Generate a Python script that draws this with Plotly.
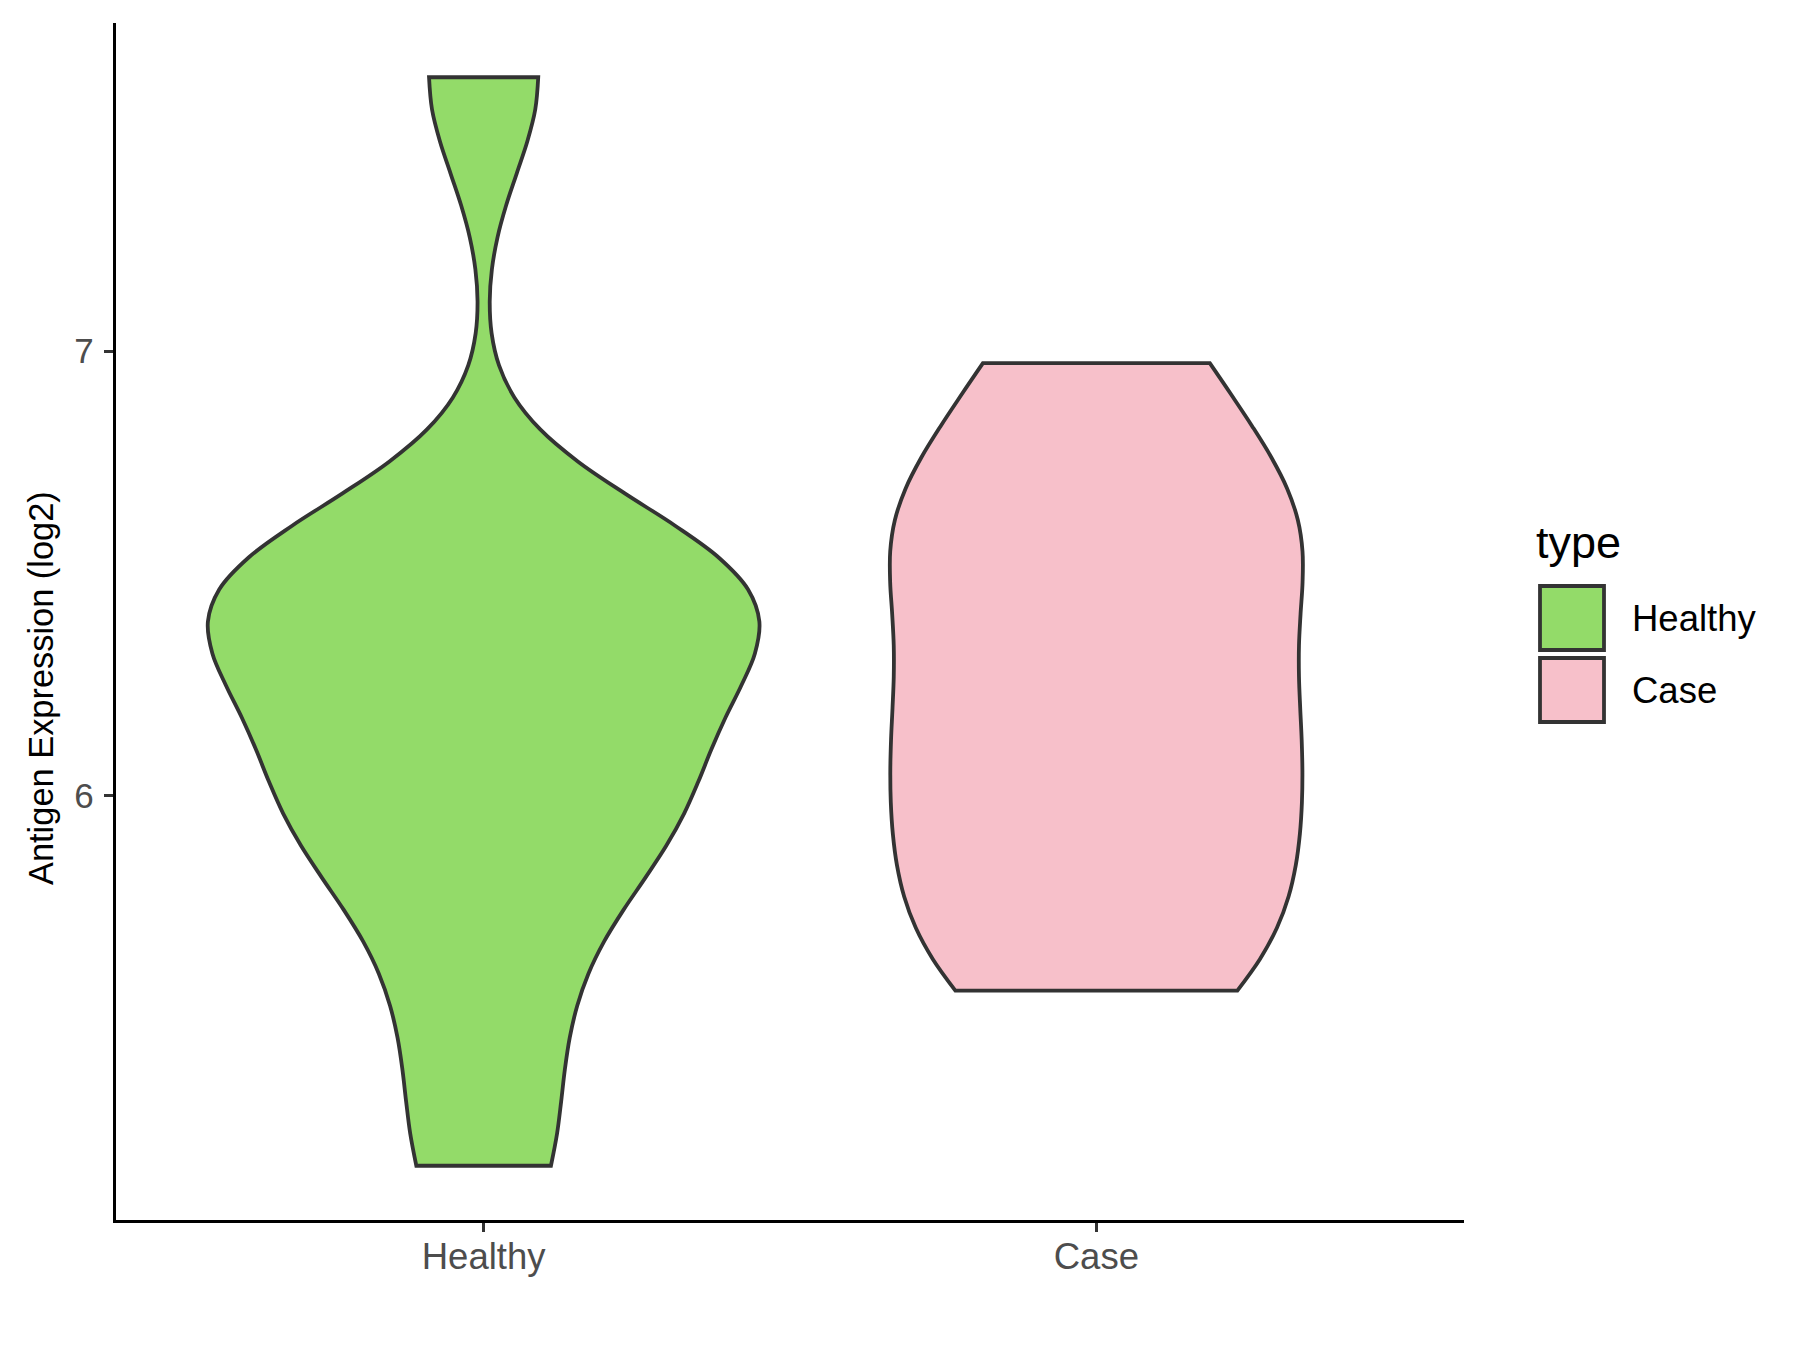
import plotly.graph_objects as go

# ---- data ----
categories = ["Healthy", "Case"]
healthy_values = [5.168, 5.54, 5.91, 5.91, 6.07, 6.24, 6.45, 6.46, 6.47, 6.48, 7.616]
case_values = [5.562, 5.75, 5.95, 6.14, 6.32, 6.61, 6.63, 6.973]
y_tick_values = [6, 7]
y_tick_labels = ["6", "7"]
legend_title = "type"
y_title = "Antigen Expression (log2)"

# ---- style ----
W, H = 1800, 1350
OFF = 8                                   # page body margin
L, R, T, B = 116, 1464, 23, 1220          # plot panel, page pixels
colors = {"Healthy": "#93DB69", "Case": "#F7C0CA"}
outline = "#333333"
font_family = "Liberation Sans, Arial, Helvetica, sans-serif"
tick_color = "#4D4D4D"

def px(x):
    return (x - L) / (R - L)

def py(y):
    return (B - y) / (B - T)

fig = go.Figure()
series = {"Healthy": (healthy_values, 0.216, 0.9), "Case": (case_values, 0.217, 0.673)}
for cat in categories:
    vals, bw, wd = series[cat]
    fig.add_trace(go.Violin(
        x=[cat] * len(vals), y=vals, name=cat,
        fillcolor=colors[cat], line=dict(color=outline, width=3.8),
        spanmode="hard", bandwidth=bw, scalemode="width", width=wd,
        points=False, box_visible=False, meanline_visible=False,
        showlegend=False, opacity=1, hoverinfo="skip",
    ))

fig.update_layout(
    width=W, height=H,
    margin=dict(l=L - OFF, r=W - R + OFF, t=T - OFF, b=H - B + OFF, pad=0),
    paper_bgcolor="white", plot_bgcolor="white",
    font=dict(family=font_family, color="black"),
    showlegend=False,
    xaxis=dict(
        type="category", categoryorder="array", categoryarray=categories,
        range=[-0.6, 1.6], showgrid=False, zeroline=False,
        showline=True, linecolor="black", linewidth=3.4,
        ticks="outside", ticklen=9, tickwidth=3.2, tickcolor=outline,
        tickfont=dict(size=36.5, color=tick_color, family=font_family),
        ticklabelstandoff=-7,
    ),
    yaxis=dict(
        range=[5.046, 7.738], showgrid=False, zeroline=False,
        showline=True, linecolor="black", linewidth=3.4,
        ticks="outside", ticklen=9, tickwidth=3.2, tickcolor=outline,
        tickvals=y_tick_values, ticktext=y_tick_labels,
        tickfont=dict(size=35, color=tick_color, family=font_family),
        ticklabelstandoff=3,
    ),
)

fig.add_annotation(xref="paper", yref="paper", x=px(41), y=py(688),
                   text=y_title, textangle=-90, showarrow=False,
                   xanchor="center", yanchor="middle",
                   font=dict(size=34.4, color="black", family=font_family))

# ---- legend drawn as keys + text ----
key_x0, key_x1 = 1540, 1604
key_rows = [(586, 650), (658, 722)]
for cat, (y0, y1) in zip(categories, key_rows):
    fig.add_shape(type="rect", xref="paper", yref="paper",
                  x0=px(key_x0), x1=px(key_x1), y0=py(y1), y1=py(y0),
                  fillcolor=colors[cat], line=dict(color=outline, width=3.8))
    fig.add_annotation(xref="paper", yref="paper", x=px(1630), y=py((y0 + y1) / 2),
                       text=cat, showarrow=False, xanchor="left", yanchor="middle",
                       font=dict(size=36.5, color="black", family=font_family))
fig.add_annotation(xref="paper", yref="paper", x=px(1534), y=py(542),
                   text=legend_title, showarrow=False, xanchor="left", yanchor="middle",
                   font=dict(size=45, color="black", family=font_family))

fig.write_html("out.html")
